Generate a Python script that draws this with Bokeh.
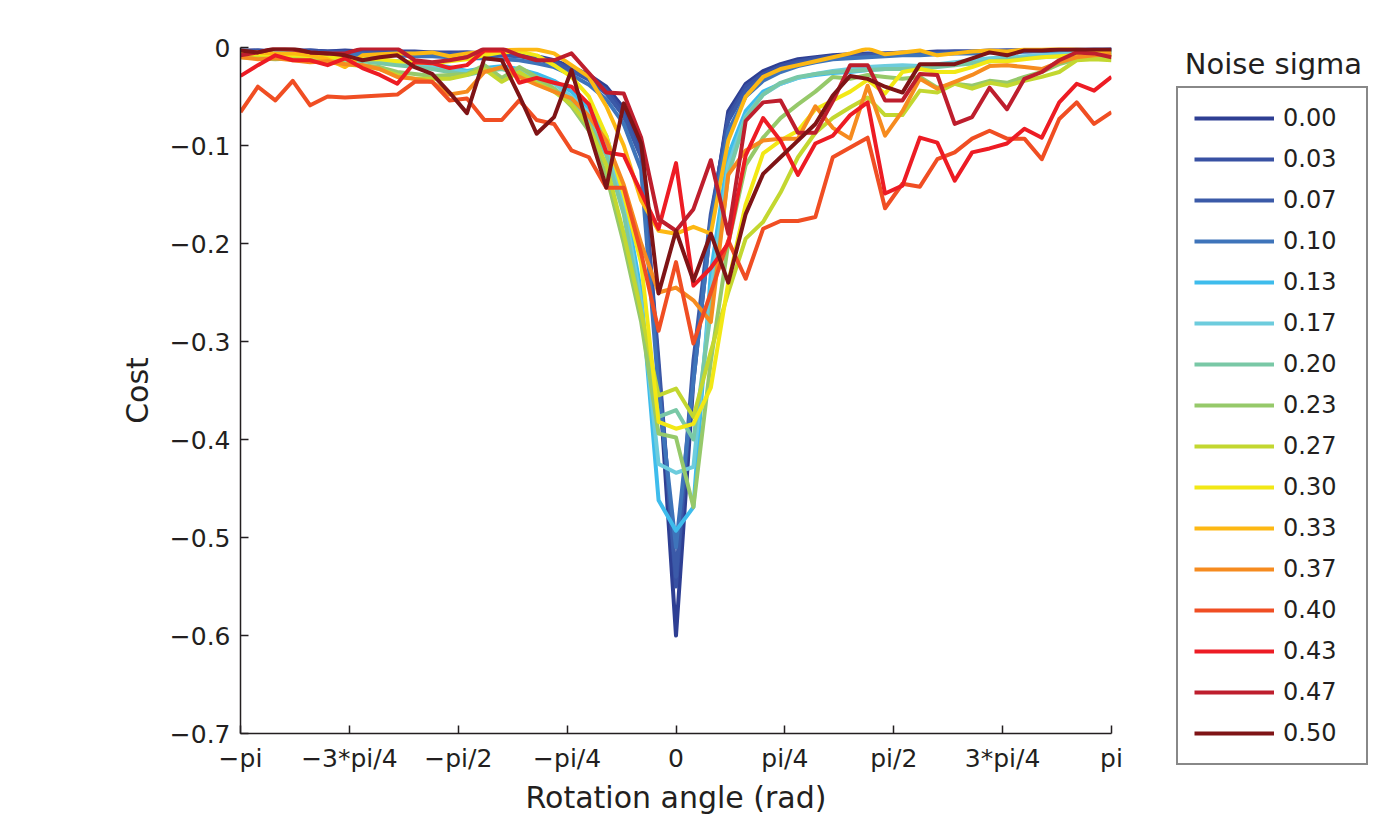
import numpy as np
from bokeh.plotting import figure
from bokeh.models import (Range1d, FixedTicker, CustomJSTickFormatter, Legend,
                          LegendItem, Label)
from bokeh.embed import file_html
from bokeh.resources import INLINE

# ---------------- data ----------------
n_points = 51
angles = np.linspace(-np.pi, np.pi, n_points)

sigma_labels = ["0.00", "0.03", "0.07", "0.10", "0.13", "0.17", "0.20", "0.23",
                "0.27", "0.30", "0.33", "0.37", "0.40", "0.43", "0.47", "0.50"]

line_colors = ["#2E3F93", "#3851A3", "#3B5AA8", "#3E74BA", "#3EBCEC", "#6DCCDD",
               "#79C8A6", "#96C96A", "#C3D730", "#F2E815", "#FDB813", "#F68B1F",
               "#F04E23", "#ED1C24", "#BE1E2D", "#7F1416"]

cost_000 = [-0.003, -0.003, -0.004, -0.003, -0.003, -0.004, -0.003, -0.004, -0.004, -0.004,
            -0.004, -0.005, -0.005, -0.005, -0.006, -0.006, -0.007, -0.009, -0.013, -0.020,
            -0.028, -0.040, -0.062, -0.100, -0.330,
            -0.600,
            -0.340, -0.180, -0.065, -0.037, -0.024, -0.017, -0.012, -0.010, -0.008, -0.007,
            -0.006, -0.006, -0.005, -0.005, -0.004, -0.004, -0.004, -0.003, -0.003, -0.003,
            -0.003, -0.003, -0.002, -0.002, -0.002]
cost_003 = [-0.004, -0.003, -0.004, -0.004, -0.003, -0.004, -0.004, -0.005, -0.004, -0.005,
            -0.005, -0.005, -0.006, -0.005, -0.006, -0.007, -0.008, -0.010, -0.014, -0.022,
            -0.030, -0.043, -0.066, -0.105, -0.320,
            -0.550,
            -0.330, -0.175, -0.070, -0.040, -0.027, -0.019, -0.014, -0.011, -0.009, -0.008,
            -0.007, -0.006, -0.006, -0.005, -0.005, -0.004, -0.004, -0.004, -0.003, -0.003,
            -0.003, -0.003, -0.003, -0.002, -0.002]
cost_007 = [-0.004, -0.004, -0.005, -0.004, -0.004, -0.005, -0.005, -0.005, -0.006, -0.005,
            -0.006, -0.006, -0.007, -0.007, -0.008, -0.008, -0.009, -0.012, -0.016, -0.024,
            -0.033, -0.047, -0.070, -0.112, -0.330,
            -0.540,
            -0.320, -0.170, -0.075, -0.044, -0.030, -0.022, -0.016, -0.013, -0.011, -0.009,
            -0.008, -0.007, -0.007, -0.006, -0.006, -0.005, -0.005, -0.004, -0.004, -0.004,
            -0.003, -0.003, -0.003, -0.003, -0.002]
cost_010 = [-0.005, -0.005, -0.006, -0.005, -0.006, -0.006, -0.007, -0.007, -0.008, -0.008,
            -0.009, -0.009, -0.010, -0.011, -0.011, -0.012, -0.013, -0.016, -0.020, -0.028,
            -0.038, -0.053, -0.078, -0.125, -0.350,
            -0.510,
            -0.340, -0.180, -0.085, -0.050, -0.034, -0.025, -0.019, -0.015, -0.012, -0.011,
            -0.010, -0.009, -0.008, -0.008, -0.007, -0.006, -0.006, -0.005, -0.005, -0.004,
            -0.004, -0.004, -0.003, -0.003, -0.003]
cost_013 = [-0.006, -0.006, -0.007, -0.008, -0.007, -0.009, -0.010, -0.011, -0.013, -0.014,
            -0.016, -0.018, -0.020, -0.024, -0.021, -0.019, -0.022, -0.027, -0.034, -0.045,
            -0.062, -0.090, -0.150, -0.250, -0.462,
            -0.493,
            -0.469, -0.230, -0.110, -0.065, -0.045, -0.037, -0.031, -0.028, -0.026, -0.025,
            -0.023, -0.022, -0.021, -0.020, -0.019, -0.017, -0.016, -0.014, -0.012, -0.010,
            -0.009, -0.008, -0.007, -0.006, -0.005]
cost_017 = [-0.005, -0.006, -0.006, -0.007, -0.008, -0.008, -0.010, -0.012, -0.013, -0.015,
            -0.017, -0.019, -0.022, -0.025, -0.023, -0.021, -0.024, -0.030, -0.037, -0.050,
            -0.068, -0.100, -0.160, -0.260, -0.425,
            -0.434,
            -0.428, -0.250, -0.120, -0.070, -0.048, -0.037, -0.031, -0.027, -0.024, -0.022,
            -0.020, -0.019, -0.018, -0.019, -0.017, -0.015, -0.013, -0.011, -0.010, -0.009,
            -0.008, -0.007, -0.006, -0.006, -0.005]
cost_020 = [-0.007, -0.008, -0.007, -0.009, -0.010, -0.011, -0.012, -0.014, -0.016, -0.018,
            -0.020, -0.022, -0.025, -0.028, -0.024, -0.022, -0.027, -0.033, -0.042, -0.055,
            -0.075, -0.110, -0.170, -0.270, -0.377,
            -0.370,
            -0.400, -0.270, -0.130, -0.072, -0.048, -0.036, -0.030, -0.027, -0.025, -0.024,
            -0.023, -0.022, -0.022, -0.021, -0.020, -0.018, -0.016, -0.014, -0.012, -0.011,
            -0.010, -0.009, -0.008, -0.008, -0.007]
cost_023 = [-0.010, -0.011, -0.012, -0.011, -0.013, -0.014, -0.016, -0.018, -0.020, -0.025,
            -0.027, -0.029, -0.028, -0.027, -0.018, -0.031, -0.020, -0.030, -0.042, -0.060,
            -0.085, -0.130, -0.200, -0.280, -0.394,
            -0.398,
            -0.469, -0.320, -0.200, -0.120, -0.092, -0.072, -0.058, -0.045, -0.030, -0.032,
            -0.028, -0.030, -0.032, -0.030, -0.041, -0.037, -0.039, -0.034, -0.036, -0.030,
            -0.025, -0.017, -0.012, -0.010, -0.010]
cost_027 = [-0.008, -0.009, -0.010, -0.012, -0.013, -0.015, -0.017, -0.019, -0.022, -0.028,
            -0.032, -0.032, -0.032, -0.028, -0.022, -0.035, -0.025, -0.036, -0.045, -0.058,
            -0.080, -0.120, -0.190, -0.270, -0.355,
            -0.348,
            -0.377, -0.310, -0.250, -0.195, -0.178, -0.148, -0.112, -0.087, -0.072, -0.061,
            -0.051, -0.069, -0.069, -0.044, -0.046, -0.037, -0.042, -0.036, -0.039, -0.034,
            -0.030, -0.025, -0.013, -0.012, -0.013]
cost_030 = [-0.006, -0.007, -0.008, -0.008, -0.009, -0.010, -0.011, -0.012, -0.012, -0.014,
            -0.015, -0.016, -0.014, -0.012, -0.008, -0.005, -0.004, -0.008, -0.018, -0.030,
            -0.050, -0.090, -0.150, -0.220, -0.382,
            -0.389,
            -0.384, -0.347, -0.240, -0.160, -0.108, -0.095, -0.085, -0.063, -0.054, -0.045,
            -0.033, -0.047, -0.025, -0.022, -0.025, -0.025, -0.020, -0.014, -0.014, -0.012,
            -0.010, -0.009, -0.008, -0.008, -0.008]
cost_033 = [-0.004, -0.005, -0.006, -0.006, -0.008, -0.012, -0.020, -0.008, -0.007, -0.006,
            -0.006, -0.005, -0.009, -0.006, -0.004, -0.003, -0.002, -0.002, -0.006, -0.018,
            -0.030, -0.060, -0.100, -0.156, -0.187,
            -0.190,
            -0.183, -0.190, -0.095, -0.050, -0.030, -0.022, -0.018, -0.014, -0.010, -0.006,
            -0.001, -0.007, -0.005, -0.003, -0.008, -0.006, -0.004, -0.003, -0.004, -0.002,
            -0.002, -0.001, -0.002, -0.003, -0.004]
cost_037 = [-0.010, -0.012, -0.011, -0.013, -0.015, -0.014, -0.017, -0.018, -0.022, -0.030,
            -0.032, -0.035, -0.048, -0.045, -0.025, -0.020, -0.030, -0.038, -0.045, -0.052,
            -0.070, -0.095, -0.140, -0.200, -0.250,
            -0.245,
            -0.258, -0.280, -0.130, -0.105, -0.095, -0.093, -0.093, -0.060, -0.082, -0.093,
            -0.039, -0.090, -0.065, -0.032, -0.042, -0.035, -0.028, -0.019, -0.018, -0.020,
            -0.022, -0.015, -0.010, -0.008, -0.007]
cost_040 = [-0.066, -0.040, -0.054, -0.034, -0.059, -0.050, -0.051, -0.050, -0.049, -0.048,
            -0.035, -0.035, -0.054, -0.052, -0.074, -0.074, -0.054, -0.074, -0.078, -0.105,
            -0.112, -0.143, -0.143, -0.210, -0.289,
            -0.219,
            -0.302, -0.250, -0.197, -0.236, -0.185, -0.177, -0.177, -0.173, -0.112, -0.102,
            -0.092, -0.164, -0.139, -0.142, -0.114, -0.107, -0.093, -0.085, -0.093, -0.093,
            -0.114, -0.073, -0.056, -0.078, -0.066]
cost_043 = [-0.029, -0.018, -0.008, -0.013, -0.013, -0.018, -0.011, -0.021, -0.028, -0.037,
            -0.015, -0.016, -0.021, -0.018, -0.003, -0.003, -0.036, -0.031, -0.036, -0.040,
            -0.058, -0.107, -0.110, -0.148, -0.185,
            -0.118,
            -0.243, -0.225, -0.200, -0.110, -0.072, -0.095, -0.130, -0.098, -0.090, -0.069,
            -0.056, -0.149, -0.141, -0.092, -0.097, -0.136, -0.107, -0.103, -0.098, -0.083,
            -0.092, -0.056, -0.037, -0.044, -0.030]
cost_047 = [-0.008, -0.005, -0.001, -0.002, -0.005, -0.006, -0.006, -0.001, -0.001, -0.001,
            -0.013, -0.015, -0.013, -0.010, -0.001, -0.001, -0.008, -0.013, -0.013, -0.006,
            -0.026, -0.046, -0.047, -0.092, -0.175,
            -0.187,
            -0.165, -0.115, -0.190, -0.075, -0.056, -0.054, -0.087, -0.087, -0.055, -0.018,
            -0.018, -0.054, -0.054, -0.027, -0.028, -0.078, -0.071, -0.041, -0.063, -0.032,
            -0.025, -0.013, -0.005, -0.006, -0.010]
cost_050 = [-0.003, -0.005, -0.001, -0.001, -0.005, -0.006, -0.008, -0.013, -0.010, -0.008,
            -0.020, -0.027, -0.046, -0.067, -0.011, -0.013, -0.049, -0.088, -0.071, -0.023,
            -0.085, -0.143, -0.057, -0.098, -0.251,
            -0.187,
            -0.238, -0.190, -0.240, -0.170, -0.129, -0.112, -0.095, -0.078, -0.049, -0.029,
            -0.032, -0.040, -0.046, -0.017, -0.017, -0.017, -0.011, -0.005, -0.008, -0.003,
            -0.003, -0.002, -0.002, -0.002, -0.002]

all_costs = [cost_000, cost_003, cost_007, cost_010, cost_013, cost_017, cost_020, cost_023,
             cost_027, cost_030, cost_033, cost_037, cost_040, cost_043, cost_047, cost_050]

x_tick_values = [-np.pi, -3 * np.pi / 4, -np.pi / 2, -np.pi / 4, 0.0,
                 np.pi / 4, np.pi / 2, 3 * np.pi / 4, np.pi]
x_tick_labels = ["\u2212pi", "\u22123*pi/4", "\u2212pi/2", "\u2212pi/4", "0",
                 "pi/4", "pi/2", "3*pi/4", "pi"]
y_tick_values = [0.0, -0.1, -0.2, -0.3, -0.4, -0.5, -0.6, -0.7]
y_tick_labels = ["0", "\u22120.1", "\u22120.2", "\u22120.3", "\u22120.4", "\u22120.5",
                 "\u22120.6", "\u22120.7"]
legend_title = "Noise sigma"

# ---------------- figure ----------------
FONT = "DejaVu Sans"
TXT = "#231F20"

p = figure(frame_width=871, frame_height=686,
           x_range=Range1d(-np.pi, np.pi), y_range=Range1d(-0.7, 0.0),
           output_backend="svg", toolbar_location=None,
           min_border_left=240, min_border_top=47, min_border_right=266,
           min_border_bottom=72)
p.outline_line_color = None
p.grid.visible = False
p.background_fill_color = "white"

lookup_code = """
let best = 0; let bd = Infinity;
for (let k = 0; k < vals.length; k++) {
  const d = Math.abs(vals[k] - tick);
  if (d < bd) { bd = d; best = k; }
}
return labs[best];
"""
p.xaxis.ticker = FixedTicker(ticks=x_tick_values)
p.xaxis.formatter = CustomJSTickFormatter(args=dict(vals=x_tick_values, labs=x_tick_labels),
                                          code=lookup_code)
p.yaxis.ticker = FixedTicker(ticks=y_tick_values)
p.yaxis.formatter = CustomJSTickFormatter(args=dict(vals=y_tick_values, labs=y_tick_labels),
                                          code=lookup_code)

for ax in (p.xaxis[0], p.yaxis[0]):
    ax.axis_line_color = TXT
    ax.axis_line_width = 1.5
    ax.major_tick_line_color = TXT
    ax.major_tick_line_width = 1.5
    ax.major_tick_in = 8
    ax.major_tick_out = 0
    ax.minor_tick_line_color = None
    ax.major_label_text_font = FONT
    ax.major_label_text_font_size = "25px"
    ax.major_label_text_color = TXT
    ax.axis_label_text_font = FONT
    ax.axis_label_text_font_size = "30px"
    ax.axis_label_text_font_style = "normal"
    ax.axis_label_text_color = TXT

p.xaxis.axis_label = "Rotation angle (rad)"
p.xaxis.major_label_standoff = 10
p.xaxis.axis_label_standoff = 4
p.yaxis.axis_label = "Cost"
p.yaxis.major_label_standoff = 10
p.yaxis.axis_label_standoff = 12

items = []
for lab, col, ys in zip(sigma_labels, line_colors, all_costs):
    r = p.line(angles, ys, line_color=col, line_width=4, line_join="round")
    items.append(LegendItem(label=lab, renderers=[r]))

legend = Legend(items=items, location=(65, -32), margin=0, padding=16,
                glyph_width=80, glyph_height=28, label_height=28, label_width=67,
                spacing=13, label_standoff=9,
                label_text_font=FONT, label_text_font_size="24px",
                label_text_color=TXT,
                border_line_color="#111111", border_line_width=2,
                background_fill_color="white", background_fill_alpha=1.0)
p.add_layout(legend, "right")

# legend title: placed in the top panel (centre annotations are clipped to the frame),
# positioned in absolute canvas pixels above the legend box
title = Label(x=1273, y=63, x_units="canvas", y_units="canvas", text=legend_title,
              text_font=FONT, text_font_size="29px", text_color=TXT,
              text_align="center", text_baseline="middle")
p.add_layout(title, "above")

open("out.html", "w").write(file_html(p, INLINE))
